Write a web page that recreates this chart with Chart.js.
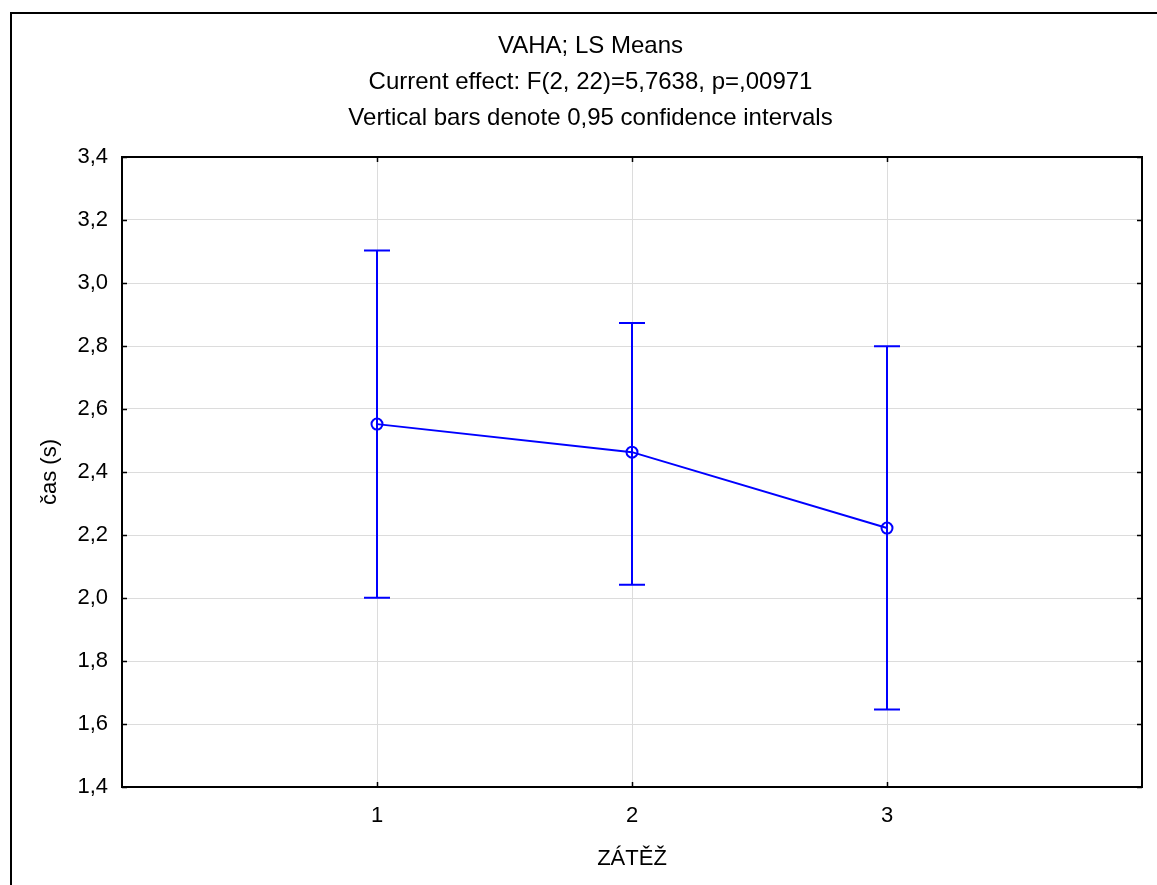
<!DOCTYPE html>
<html>
<head>
<meta charset="utf-8">
<script src="https://cdn.jsdelivr.net/npm/chart.js@4/dist/chart.umd.min.js"></script>
<style>
html,body{margin:0;padding:0;background:#fff;}
#wrap{width:1157px;height:885px;position:relative;}
</style>
</head>
<body>
<div id="wrap"><canvas id="c" width="1157" height="885"></canvas></div>
<script>
// ---- data ----
const categories = [1, 2, 3];
const means = [2.552, 2.463, 2.222];
const ciUpper = [3.103, 2.873, 2.799];
const ciLower = [2.001, 2.042, 1.646];
const yTickValues = [1.4, 1.6, 1.8, 2.0, 2.2, 2.4, 2.6, 2.8, 3.0, 3.2, 3.4];
const titleLines = [
  'VAHA; LS Means',
  'Current effect: F(2, 22)=5,7638, p=,00971',
  'Vertical bars denote 0,95 confidence intervals'
];
const xTitle = 'ZÁTĚŽ';
const yTitle = 'čas (s)';

const FONT = "'Liberation Sans', Arial, sans-serif";
const BLUE = '#0000ff';

const points = categories.map((c, i) => ({x: c, y: means[i]}));

const errorBars = {
  id: 'errorBars',
  beforeDatasetsDraw(chart) {
    const {ctx, scales: {x, y}} = chart;
    ctx.save();
    ctx.strokeStyle = BLUE;
    ctx.lineWidth = 2;
    const cap = 13;
    categories.forEach((c, i) => {
      const px = Math.round(x.getPixelForValue(c));
      const pu = y.getPixelForValue(ciUpper[i]);
      const pl = y.getPixelForValue(ciLower[i]);
      ctx.beginPath();
      ctx.moveTo(px, pu); ctx.lineTo(px, pl);
      ctx.moveTo(px - cap, pu); ctx.lineTo(px + cap, pu);
      ctx.moveTo(px - cap, pl); ctx.lineTo(px + cap, pl);
      ctx.stroke();
    });
    ctx.restore();
  }
};

const frame = {
  id: 'frame',
  afterDraw(chart) {
    const {ctx, chartArea: a, scales: {x, y}} = chart;
    ctx.save();
    ctx.strokeStyle = '#000';
    // inward tick marks
    ctx.lineWidth = 1.5;
    ctx.beginPath();
    yTickValues.forEach(v => {
      const py = Math.round(y.getPixelForValue(v)) + 0.5;
      ctx.moveTo(a.left, py); ctx.lineTo(a.left + 5, py);
      ctx.moveTo(a.right, py); ctx.lineTo(a.right - 5, py);
    });
    categories.forEach(c => {
      const px = Math.round(x.getPixelForValue(c)) + 0.5;
      ctx.moveTo(px, a.bottom); ctx.lineTo(px, a.bottom - 5);
      ctx.moveTo(px, a.top); ctx.lineTo(px, a.top + 5);
    });
    ctx.stroke();
    // plot frame
    ctx.lineWidth = 2;
    ctx.strokeRect(a.left, a.top, a.right - a.left, a.bottom - a.top);
    // outer page frame (top and left edges)
    ctx.lineWidth = 2;
    ctx.beginPath();
    ctx.moveTo(11, 885); ctx.lineTo(11, 13); ctx.lineTo(1157, 13);
    ctx.stroke();
    ctx.restore();
  }
};

new Chart(document.getElementById('c'), {
  type: 'line',
  data: {
    datasets: [{
      data: points,
      borderColor: BLUE,
      borderWidth: 2,
      backgroundColor: 'rgba(0,0,0,0)',
      pointRadius: 5.5,
      pointBorderWidth: 2,
      pointBorderColor: BLUE,
      pointBackgroundColor: 'rgba(0,0,0,0)',
      tension: 0,
      fill: false
    }]
  },
  options: {
    responsive: false,
    animation: false,
    devicePixelRatio: 1,
    layout: {padding: {left: 39, right: 15, top: 0, bottom: 0}},
    plugins: {
      legend: {display: false},
      tooltip: {enabled: false},
      title: {
        display: true,
        text: titleLines,
        color: '#000',
        font: {family: FONT, size: 24, weight: 'normal', lineHeight: 1.5},
        padding: {top: 28, bottom: 21}
      }
    },
    scales: {
      x: {
        type: 'linear',
        min: 0,
        max: 4,
        afterBuildTicks(scale) { scale.ticks = categories.map(v => ({value: v})); },
        afterFit(scale) { scale.height = 98; },
        grid: {color: '#dcdcdc', lineWidth: 1, drawTicks: false},
        border: {display: false},
        ticks: {
          color: '#000',
          font: {family: FONT, size: 22},
          padding: 16,
          maxRotation: 0,
          callback: v => String(v)
        },
        title: {
          display: true,
          text: xTitle,
          color: '#000',
          font: {family: FONT, size: 22, lineHeight: 1},
          padding: {top: 0, bottom: 15}
        }
      },
      y: {
        type: 'linear',
        min: 1.4,
        max: 3.4,
        afterBuildTicks(scale) { scale.ticks = yTickValues.map(v => ({value: v})); },
        afterFit(scale) { scale.width = 83; },
        grid: {color: '#dcdcdc', lineWidth: 1, drawTicks: false},
        border: {display: false},
        ticks: {
          color: '#000',
          font: {family: FONT, size: 22},
          padding: 14,
          callback: v => Number(v).toFixed(1).replace('.', ',')
        },
        title: {
          display: true,
          text: yTitle,
          color: '#000',
          font: {family: FONT, size: 22, lineHeight: 1},
          padding: {top: 0, bottom: 0}
        }
      }
    }
  },
  plugins: [errorBars, frame]
});
</script>
</body>
</html>
